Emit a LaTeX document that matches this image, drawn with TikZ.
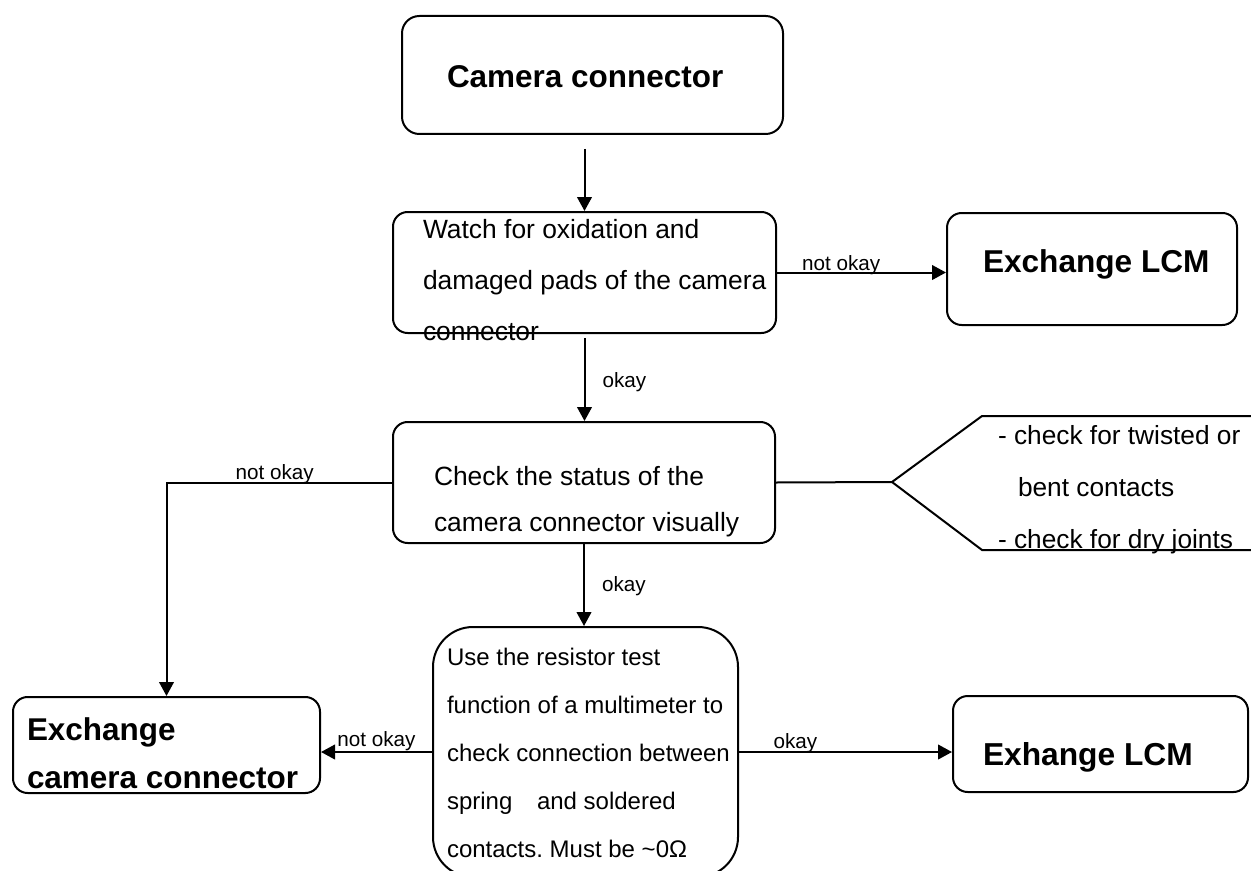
\documentclass[tikz,border=0pt]{standalone}
\usepackage{fontspec}
\setmainfont{Liberation Sans}
\usetikzlibrary{arrows.meta, fit, positioning}
\frenchspacing

\begin{document}
\begin{tikzpicture}[x=0.75pt, y=-0.75pt, line width=1.5pt,
    >={Triangle[length=10.5pt, width=11pt]},
    box/.style={draw, rounded corners=11pt, inner sep=0pt},
    txt/.style={anchor=north west, inner sep=0pt, align=left},
    lbl/.style={inner sep=0pt, font=\fontsize{15.5}{18}\selectfont}]
      \useasboundingbox (0, 0) rectangle (1251, 870);

      % boxes
      \node [box, rounded corners=13pt, fit={(402, 16) (783, 134)}] (cam) {};
      \node [box, fit={(393, 212) (776, 333)}] (watch) {};
      \node [box, fit={(947, 213) (1237, 325)}] (lcm) {};
      \node [box, fit={(393, 422) (775, 543)}] (check) {};
      \node [box, rounded corners=30pt, fit={(433, 627) (738, 877)}] (meter) {};
      \node [box, fit={(13, 697) (320, 793)}] (camx) {};
      \node [box, fit={(953, 696) (1248, 792)}] (lcmx) {};

      % texts
      \node [txt, anchor=base west, font=\bfseries\fontsize{23.6}{28}\selectfont] (cam-t) at (446, 88) {Camera connector};
      \node [txt, font=\fontsize{19.8}{38.25}\selectfont] (watch-t) at (422, 218) {Watch for oxidation and\\damaged pads of the camera\\connector};
      \node [txt, anchor=base west, font=\bfseries\fontsize{23.7}{28}\selectfont] (lcm-t) at (982, 272) {Exchange LCM};
      \node [txt, font=\fontsize{19.8}{34.5}\selectfont] (check-t) at (433, 465) {Check the status of the\\camera connector visually};
      \node [txt, font=\fontsize{19.7}{39}\selectfont] (notes-t) at (997, 424) {- check for twisted or\\\hspace*{15pt}bent contacts\\- check for dry joints};
      \node [txt, font=\fontsize{18}{36}\selectfont] (meter-t) at (446, 647.5) {Use the resistor test\\function of a multimeter to\\check connection between\\spring\hspace{18.5pt}and soldered\\contacts. Must be \textasciitilde 0Ω};
      \node [txt, font=\bfseries\fontsize{23.6}{36}\selectfont] (camx-t) at (26, 717) {Exchange\\camera connector};
      \node [txt, anchor=base west, font=\bfseries\fontsize{23.8}{28}\selectfont] (lcmx-t) at (982, 765) {Exhange LCM};

      % notes callout
      \coordinate (tip) at (892, 482);
      \draw (1251, 416) -- (982, 416) -- (tip) -- (982, 550) -- (1251, 550);

      % connectors
      \draw [->, shorten <=10.5pt] (cam.south -| watch.north) -- (watch.north);
      \draw [->] (watch.east) -- (watch.east -| lcm.west)
        node [lbl, pos=0.38, anchor=base, yshift=1.5pt] (nok1) {not okay};
      \draw [->, shorten <=3pt] (watch.south) -- (watch.south |- check.north)
        node [lbl, pos=0.55, right=12.75pt] (ok1) {okay};
      \draw [->] (check.west) -| (camx.north)
        node [lbl, pos=0.26, anchor=base, yshift=2.25pt] (nok2) {not okay};
      \draw (check.east) -- (tip);
      \draw [->] (check.south) -- (check.south |- meter.north)
        node [lbl, pos=0.52, right=12.75pt] (ok2) {okay};
      \draw [->] (meter.west) -- (meter.west -| camx.east)
        node [lbl, pos=0.5, anchor=base, yshift=4.5pt] (nok3) {not okay};
      \draw [->] (meter.east) -- (meter.east -| lcmx.west)
        node [lbl, pos=0.265, anchor=base, yshift=3pt] (ok3) {okay};
    \end{tikzpicture}
\end{document}
